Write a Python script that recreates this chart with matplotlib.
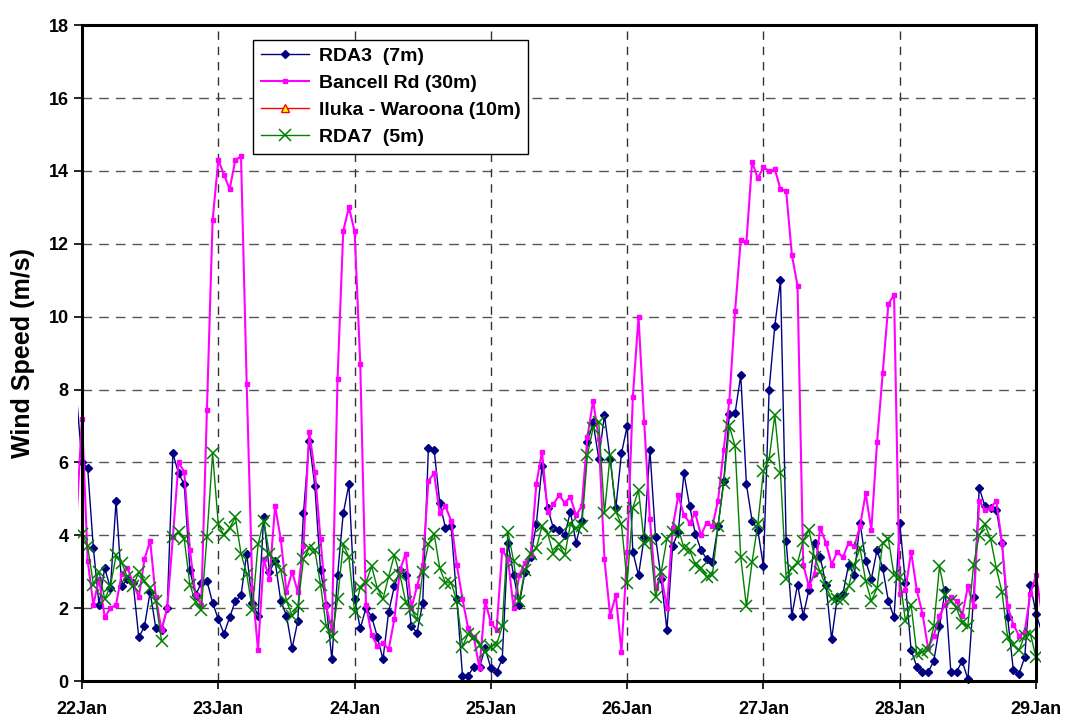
import numpy as np
import matplotlib
matplotlib.use("Agg")
import matplotlib.pyplot as plt
from matplotlib.transforms import Bbox, TransformedBbox

plt.rcParams['font.family'] = ['Liberation Sans', 'DejaVu Sans']
plt.rcParams['font.weight'] = 'bold'

# hora desde 22Jan 00:00 (incluye una hora antes y una despues, recortadas)
horas = np.arange(-1, 170)

rda3 = [7.9,
        6.0, 5.85, 3.65, 2.1, 3.1, 2.55, 4.95, 2.6, 2.8, 2.7, 1.2, 1.5,
        2.45, 1.45, 1.4, 2.0, 6.25, 5.7, 5.4, 3.05, 2.35, 2.7, 2.75, 2.15,
        1.7, 1.3, 1.75, 2.2, 2.35, 3.5, 2.15, 1.8, 4.5, 3.0, 3.3, 2.2,
        1.8, 0.9, 1.65, 4.6, 6.6, 5.35, 3.05, 2.1, 0.6, 2.9, 4.6, 5.4,
        2.25, 1.45, 2.0, 1.77, 1.22, 0.6, 1.9, 2.6, 3.05, 2.9, 1.5, 1.33,
        2.15, 6.4, 6.35, 4.9, 4.2, 4.25, 2.25, 0.15, 0.15, 0.4, 0.4, 0.9,
        0.35, 0.25, 0.6, 3.8, 2.9, 2.1, 3.0, 3.4, 4.3, 5.9, 4.75, 4.2,
        4.15, 4.0, 4.65, 3.8, 4.4, 6.55, 7.1, 6.1, 7.3, 6.1, 4.75, 6.25,
        7.0, 3.55, 2.9, 3.95, 6.35, 3.95, 2.8, 1.4, 3.7, 4.1, 5.7, 4.8,
        4.05, 3.6, 3.35, 3.27, 4.25, 5.5, 7.32, 7.35, 8.4, 5.4, 4.4, 4.15,
        3.15, 8.0, 9.75, 11.0, 3.85, 1.8, 2.65, 1.8, 2.5, 3.8, 3.4, 2.65,
        1.15, 2.3, 2.4, 3.2, 2.9, 4.35, 3.3, 2.8, 3.6, 3.1, 2.2, 1.75,
        4.35, 2.7, 0.85, 0.4, 0.25, 0.25, 0.55, 1.5, 2.5, 0.25, 0.25, 0.55,
        0.05, 2.3, 5.3, 4.8, 4.75, 4.7, 3.8, 1.75, 0.3, 0.2, 0.65, 2.65,
        1.85, 1.35]

bancell = [4.4,
           7.2, 3.3, 2.1, 2.8, 1.75, 2.0, 2.1, 2.95, 3.1, 2.7, 2.3, 3.35,
           3.85, 2.3, 1.4, 2.0, 3.95, 6.0, 5.75, 3.6, 2.35, 2.1, 7.45, 12.65,
           14.3, 13.9, 13.5, 14.3, 14.4, 8.15, 2.55, 0.85, 3.35, 2.8, 4.8, 3.9,
           2.45, 3.0, 2.45, 3.7, 6.85, 5.75, 3.9, 2.05, 1.4, 8.3, 12.35, 13.0,
           12.35, 8.7, 2.1, 1.27, 0.97, 1.04, 0.87, 1.7, 3.05, 3.5, 2.0, 2.6,
           3.2, 5.5, 5.7, 4.6, 4.8, 4.4, 3.2, 2.25, 1.45, 1.2, 0.35, 2.2,
           1.6, 1.4, 3.6, 3.35, 2.0, 2.9, 3.25, 3.45, 5.4, 6.3, 4.65, 4.85,
           5.1, 4.9, 5.05, 4.55, 4.8, 6.7, 7.7, 6.65, 3.35, 1.8, 2.35, 0.8,
           3.55, 7.8, 10.0, 7.1, 4.45, 2.55, 2.9, 2.0, 4.2, 5.1, 4.55, 4.35,
           4.6, 4.0, 4.35, 4.25, 4.95, 6.35, 7.7, 10.15, 12.1, 12.05, 14.25, 13.8,
           14.1, 14.0, 14.05, 13.5, 13.45, 11.7, 10.85, 3.2, 2.6, 2.95, 4.2, 3.8,
           3.2, 3.55, 3.4, 3.8, 3.7, 4.25, 5.15, 4.15, 6.55, 8.45, 10.35, 10.6,
           2.4, 2.5, 3.55, 2.5, 1.85, 0.9, 1.25, 1.8, 2.1, 2.3, 2.2, 1.8,
           2.6, 2.05, 4.95, 4.7, 4.75, 4.95, 3.8, 2.05, 1.55, 1.25, 1.35, 2.4,
           2.9, 1.9]

iluka = []  # sin datos en este periodo

rda7 = [np.nan,
        4.05, 3.7, 2.65, 3.0, 2.25, 2.6, 3.45, 3.25, 2.85, 2.6, 3.0, 2.75,
        2.55, 2.2, 1.1, np.nan, 3.95, 4.1, 3.9, 2.65, 2.17, 1.95, 3.95, 6.25,
        4.3, 4.0, 4.2, 4.5, 3.5, 2.95, 1.95, 3.75, 4.4, 3.5, 3.3, 3.05,
        2.2, 1.8, 2.05, 3.35, 3.65, 3.6, 2.65, 1.5, 1.2, 2.25, 3.75, 3.4,
        1.9, 2.58, 2.7, 3.15, 2.55, 2.25, 2.87, 3.46, 2.9, 2.18, 1.97, 1.68,
        3.0, 3.75, 4.05, 3.1, 2.7, 2.7, 2.2, 0.95, 1.3, 1.2, 1.0, 0.8,
        0.95, 1.0, 1.5, 4.1, 3.3, 2.2, 3.05, 3.5, 3.65, 4.25, 4.05, 3.5,
        3.75, 3.45, 4.3, 4.2, 4.25, 6.2, 6.95, 7.1, 4.6, 6.2, 4.65, 4.3,
        2.7, 4.75, 5.25, 3.8, 3.9, 2.3, 3.0, 3.9, 4.1, 4.2, 3.65, 3.6,
        3.2, 3.1, 2.87, 2.9, 4.25, 5.43, 7.0, 6.45, 3.4, 2.05, 3.27, 4.3,
        5.77, 6.1, 7.3, 5.7, 2.8, 3.1, 3.25, 3.85, 4.15, 3.4, 3.0, 2.6,
        2.25, 2.25, 2.25, 2.6, 3.2, 3.65, 2.75, 2.2, 2.55, 3.8, 3.9, 2.9,
        2.85, 1.65, 2.1, 0.75, 0.8, 0.85, 1.5, 3.15, 2.35, 2.2, 2.0, 1.6,
        1.5, 3.2, 4.0, 4.3, 3.9, 3.1, 2.45, 1.2, 1.0, 0.85, 1.25, 1.3,
        0.65, 0.55]

dias = ['22Jan', '23Jan', '24Jan', '25Jan', '26Jan', '27Jan', '28Jan', '29Jan']

fig = plt.figure(figsize=(10.65, 7.2), dpi=100)
ax = fig.add_axes([0.077, 0.054, 0.8958, 0.911])

# rejilla discontinua
for y in range(2, 18, 2):
    ax.axhline(y, color='#555555', lw=1.0, dashes=(7, 5), zorder=1)
for d in range(1, 7):
    ax.axvline(d * 24, color='#333333', lw=1.0, dashes=(6, 5), zorder=1)

marcas = slice(1, -1)
l1, = ax.plot(horas, rda3, color='#000080', lw=1.0, marker='D', markersize=4.5,
              markevery=marcas, label='RDA3  (7m)', zorder=3)
l2, = ax.plot(horas, bancell, color='#FF00FF', lw=1.5, marker='s', markersize=3,
              markevery=marcas, label='Bancell Rd (30m)', zorder=4)
l3, = ax.plot(horas[:len(iluka)], iluka, color='#FF0000', lw=1.0, marker='^',
              markersize=6, markerfacecolor='#FFFF00', markeredgecolor='#FF0000',
              label='Iluka - Waroona (10m)', zorder=5)
l4, = ax.plot(horas, rda7, color='#008000', lw=1.0, marker='x', markersize=9,
              markeredgewidth=1.1, markevery=marcas, label='RDA7  (5m)', zorder=6)

# recorte un poco mas ancho que el area del grafico
caja = TransformedBbox(Bbox([[-0.75, -0.3], [168.75, 18.3]]), ax.transData)
for linea in (l1, l2, l3, l4):
    linea.set_clip_box(caja)

ax.set_xlim(0, 168)
ax.set_ylim(0, 18)
ax.set_xticks(np.arange(0, 169, 24))
ax.set_xticklabels(dias)
ax.set_yticks(np.arange(0, 19, 2))
ax.tick_params(axis='both', labelsize=13, width=1.2, length=6, direction='out')
ax.tick_params(axis='x', pad=8)
for t in ax.get_xticklabels() + ax.get_yticklabels():
    t.set_fontweight('bold')

for lado in ax.spines.values():
    lado.set_linewidth(2.2)
    lado.set_zorder(7)

ax.set_ylabel('Wind Speed (m/s)', fontsize=18, fontweight='bold', labelpad=10)

leg = ax.legend(loc='upper left', bbox_to_anchor=(0.179, 0.978), fontsize=14,
                frameon=True, fancybox=False, edgecolor='black', framealpha=1,
                handlelength=2.5, labelspacing=0.48, borderpad=0.4,
                handletextpad=0.5, borderaxespad=0)
leg.get_frame().set_linewidth(1.0)
for t in leg.get_texts():
    t.set_fontweight('bold')

fig.savefig('out.png', dpi=100)
